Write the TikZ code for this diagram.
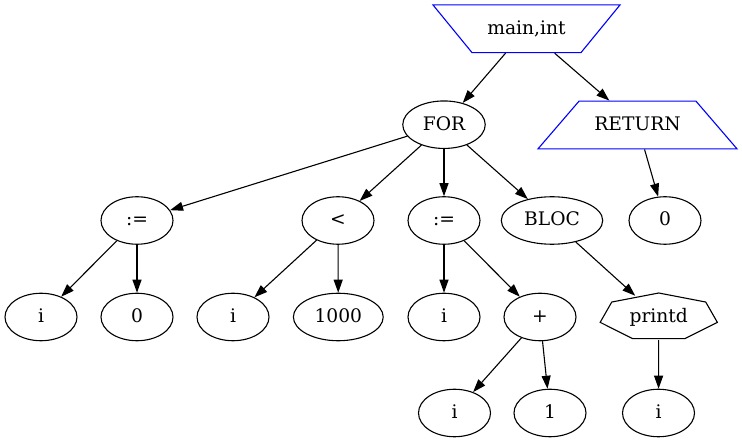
\documentclass[tikz,border=0pt]{standalone}
\usepackage{fontspec}
\setmainfont{DejaVu Serif}
\usetikzlibrary{shapes.geometric}
\usetikzlibrary{arrows.meta}

\tikzset{
 ast/.style={ellipse, draw, line width=1.1pt, minimum width=72pt, minimum height=47.5pt, inner xsep=8pt, inner ysep=0pt, text height=13.5pt, text depth=2.5pt, font=\fontsize{18.67}{22}\selectfont},
 blk/.style={trapezium, draw=blue, line width=1.1pt, trapezium stretches body, inner ysep=15.85pt, text height=13.5pt, text depth=2.5pt, font=\fontsize{18.67}{22}\selectfont},
 hept/.style={ellipse, minimum width=117pt, minimum height=46pt, inner sep=0pt, text height=13.5pt, text depth=2.5pt, font=\fontsize{18.67}{22}\selectfont},
 edge/.style={->, >={Triangle[length=13pt,width=9pt]}, line width=1.1pt}
}

\begin{document}
\begin{tikzpicture}[x=1pt, y=-1pt]
\useasboundingbox (0,0) rectangle (742,443);
\node[blk, shape border rotate=180, trapezium left angle=50.7, trapezium right angle=50.7, minimum width=187pt] (mainint) at (526.5,28.8) {main,int};
\node[blk, trapezium left angle=49.3, trapezium right angle=49.3, minimum width=199pt] (ret) at (637.5,125) {RETURN};
\foreach \nm/\x/\y/\txt in {for/444/124.7/FOR, asgA/137/220.5/{:=}, lt/338/220.5/{<}, asgB/444/220.5/{:=}, bloc/552/220.5/BLOC, zero/665/220.5/0, iA/41/317/i, zeroA/137/317/0, iB/233/317/i, thousand/338.3/317/1000, iC/444/317/i, plus/540/317/{+}, iD/454.5/413/i, one/550/413/1, iE/658.5/413/i}
 \node[ast] (\nm) at (\x,\y) {\txt};
\node[hept] (printd) at (658.75,317) {printd};
\draw[line width=1.1pt, shift={(printd.center)}] (-90:60.1 and 24) \foreach \k in {1,...,6} { -- ({-90+\k*360/7}:60.1 and 24) } -- cycle;
\foreach \a/\b in {mainint/for, mainint/ret, for/asgA, for/lt, for/asgB, for/bloc, ret/zero, asgA/iA, asgA/zeroA, lt/iB, lt/thousand, asgB/iC, asgB/plus, bloc/printd, plus/iD, plus/one, printd/iE}
 \draw[edge] (\a) -- (\b);
\end{tikzpicture}
\end{document}
